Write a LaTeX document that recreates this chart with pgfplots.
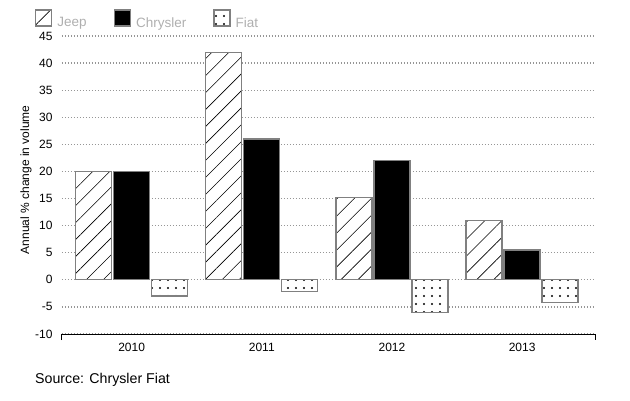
\documentclass[border=0pt]{standalone}
\usepackage{pgfplots}
\pgfplotsset{compat=1.18}
\usepackage{fontspec}
\setmainfont{Liberation Sans}
\usetikzlibrary{patterns.meta}
\definecolor{gridgray}{RGB}{150,150,150}
\definecolor{edgegray}{RGB}{128,128,128}
\definecolor{leggray}{RGB}{175,175,175}
\begin{document}
\begin{tikzpicture}
\useasboundingbox (-62pt,-66pt) rectangle (568pt,334pt);
\begin{axis}[
  name=ax,
  at={(0,0)}, anchor=south west,
  scale only axis, width=533pt, height=298pt,
  xmin=-0.535, xmax=3.56, ymin=-10, ymax=45,
  ybar, bar width=36pt,
  xtick={0,1,2,3}, xticklabels={2010,2011,2012,2013},
  ytick={-10,-5,...,45},
  major tick length=0pt,
  axis line style={draw=none},
  ymajorgrids,
  grid style={draw=gridgray, line width=1.3pt, dash pattern=on 1.3pt off 1.7pt},
  /pgf/number format/assume math mode=true,
  tick label style={font=\fontsize{12}{14}\selectfont},
  xticklabel style={yshift=-6pt},
  yticklabel style={xshift=-6pt},
  ylabel={Annual \% change in volume},
  ylabel style={at={(axis description cs:-0.0675,0.517)}, anchor=center, font=\fontsize{12}{14}\selectfont},
  legend columns=3,
  legend style={at={(axis description cs:-0.0507,1.057)}, anchor=west, draw=none, fill=none,
    font=\fontsize{13.5}{15}\selectfont, text=leggray, inner sep=0pt,
    nodes={inner sep=0pt},
    /tikz/every odd column/.append style={column sep=5pt},
    /tikz/every even column/.append style={column sep=27pt}},
  legend image code/.code={\draw[#1,bar shift=0pt] (0pt,-3.2pt) rectangle (16pt,12.8pt);},
]
\addplot[draw=edgegray, line width=1.3pt, fill=white, bar shift=-38pt,
  postaction={pattern={Lines[angle=45,distance=12pt,line width=0.6pt]}}]
  coordinates {(0,20) (1,42) (2,15.2) (3,11)};
\addlegendentry{Jeep}
\addplot[draw=edgegray, line width=1.3pt, fill=black, bar shift=0pt]
  coordinates {(0,20) (1,26) (2,22) (3,5.5)};
\addlegendentry{Chrysler}
\addplot[draw=edgegray, line width=1.3pt, fill=white, bar shift=38pt,
  postaction={pattern={Dots[radius=1.1pt,distance=8pt]}}]
  coordinates {(0,-3) (1,-2.2) (2,-6) (3,-4.2)};
\addlegendentry{Fiat}
\end{axis}
\draw[black, line width=1pt] ([yshift=-6pt]ax.south west) -- (ax.south west) -- (ax.south east) -- ([yshift=-6pt]ax.south east);
\node[anchor=west, font=\fontsize{14.2}{16}\selectfont, inner sep=0pt] at (-27pt,-46pt) {Source: Chrysler Fiat};
\end{tikzpicture}
\end{document}
